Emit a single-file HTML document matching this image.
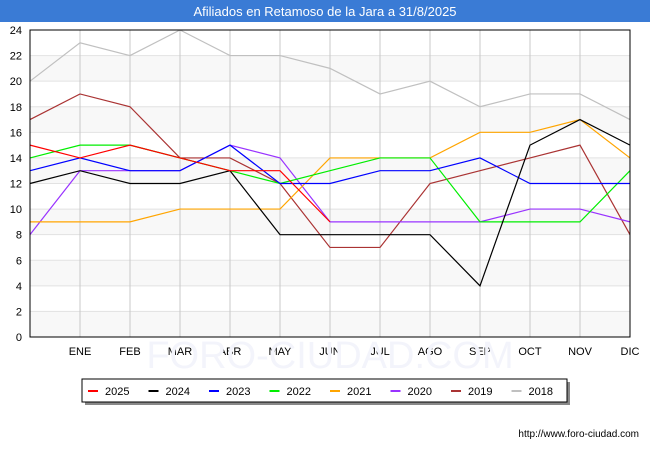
<!DOCTYPE html>
<html><head><meta charset="utf-8"><style>
body{margin:0;width:650px;height:450px;background:#fff;font-family:"Liberation Sans",sans-serif;overflow:hidden}
</style></head><body>
<svg width="650" height="450" xmlns="http://www.w3.org/2000/svg">
<rect x="0" y="0" width="650" height="22" fill="#3a7bd5"/>
<text x="325" y="16" text-anchor="middle" fill="#fff" font-size="13">Afiliados en Retamoso de la Jara a 31/8/2025</text>
<g id="plot"></g>
<g id="legend"></g>
<text x="639" y="437" text-anchor="end" font-size="10" fill="#000">http://www.foro-ciudad.com</text>
</svg>
<script>
const categories=["","ENE","FEB","MAR","ABR","MAY","JUN","JUL","AGO","SEP","OCT","NOV","DIC"];
const yTicks=[0,2,4,6,8,10,12,14,16,18,20,22,24];
const seriesNames=["2025","2024","2023","2022","2021","2020","2019","2018"];
const seriesColors=["#ff0000","#000000","#0000ff","#00ee00","#ffa500","#9933ff","#aa3333","#c0c0c0"];
const s2025=[15,14,15,14,13,13,9];
const s2024=[12,13,12,12,13,8,8,8,8,4,15,17,15];
const s2023=[13,14,13,13,15,12,12,13,13,14,12,12,12];
const s2022=[14,15,15,14,13,12,13,14,14,9,9,9,13];
const s2021=[9,9,9,10,10,10,14,14,14,16,16,17,14];
const s2020=[8,13,13,13,15,14,9,9,9,9,10,10,9];
const s2019=[17,19,18,14,14,12,7,7,12,13,14,15,8];
const s2018=[20,23,22,24,22,22,21,19,20,18,19,19,17];
const seriesData=[s2025,s2024,s2023,s2022,s2021,s2020,s2019,s2018];
const NS="http://www.w3.org/2000/svg";
const L=30,R=630,T=30,B=337;
const xs=i=>L+i*(R-L)/(categories.length-1);
const ys=v=>B-v*(B-T)/24;
const plot=document.getElementById('plot');
function mk(t,a,p){const e=document.createElementNS(NS,t);for(const k in a)e.setAttribute(k,a[k]);(p||plot).appendChild(e);return e;}
for(let i=0;i<yTicks.length-1;i++){
 if(i%2==0){const r=mk('rect',{x:L,y:ys(yTicks[i+1]),width:R-L,height:ys(yTicks[i])-ys(yTicks[i+1]),fill:'#f8f8f8'});
 
 }
}
yTicks.forEach(v=>{
 const l=mk('line',{x1:L,x2:R,y1:ys(v),y2:ys(v),stroke:'#e2e2e2'});
 
 
 const t=mk('text',{x:L-8,y:ys(v)+4,'text-anchor':'end','font-size':11});
 t.textContent=v;
 
 
});
categories.forEach((c,i)=>{
 const l=mk('line',{x1:xs(i),x2:xs(i),y1:T,y2:B,stroke:'#c8c8c8'});
 
 
 const t=mk('text',{x:xs(i),y:B+18,'text-anchor':'middle','font-size':11});
 t.textContent=c;
 
 
});
const wm=mk('text',{x:330,y:368,'text-anchor':'middle','font-size':38,fill:'#f3f4fb'});
wm.textContent='FORO-CIUDAD.COM';


for(let s=seriesData.length-1;s>=0;s--){
 const pts=seriesData[s].map((v,i)=>xs(i)+','+ys(v)).join(' ');
 const p=mk('polyline',{points:pts,fill:'none',stroke:seriesColors[s],'stroke-width':1.2});
 
 
}
const fr=mk('rect',{x:L,y:T,width:R-L,height:B-T,fill:'none',stroke:'#000'});


const lg=document.getElementById('legend');
const sh=mk('rect',{x:85,y:382,width:485,height:23,fill:'#888'},lg);


const bx=mk('rect',{x:82,y:379,width:485,height:23,fill:'#fff',stroke:'#000'},lg);


seriesNames.forEach((n,i)=>{
 const x0=88+i*60.5;
 const g=mk('g',{},lg);
 
 
 mk('line',{x1:x0,x2:x0+10,y1:391,y2:391,stroke:seriesColors[i],'stroke-width':2},g);
 const t=mk('text',{x:x0+17,y:395,'font-size':11},g);
 t.textContent=n;
});
</script>
</body></html>
